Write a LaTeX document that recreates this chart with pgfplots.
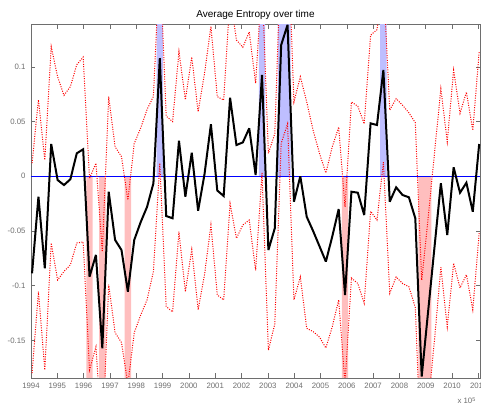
\documentclass[border=0pt]{standalone}
\usepackage{fontspec}
\setmainfont{Liberation Sans}
\usepackage{pgfplots}
\usepackage{pgfplotstable}
\pgfplotsset{compat=1.18}
\definecolor{axgray}{RGB}{110,110,110}
\definecolor{bandblue}{RGB}{190,190,255}
\definecolor{bandpink}{RGB}{255,190,190}
\pgfplotstableread{
x b u l
1994.040 -0.0887 0.012 -0.180
1994.283 -0.0186 0.070 -0.1055
1994.525 -0.0841 0.015 -0.177
1994.768 0.0295 0.1185 -0.061
1995.011 -0.0034 0.091 -0.0948
1995.254 -0.0080 0.074 -0.087
1995.496 -0.0027 0.082 -0.081
1995.739 0.0210 0.102 -0.061
1995.982 0.0247 0.109 -0.060
1996.224 -0.0918 -0.002 -0.177
1996.467 -0.0719 0.012 -0.156
1996.710 -0.1572 -0.069 -0.245
1996.952 -0.0141 0.0728 -0.099
1997.195 -0.0582 0.027 -0.143
1997.438 -0.0674 0.018 -0.152
1997.681 -0.1055 -0.0217 -0.190
1997.923 -0.0582 0.030 -0.143
1998.166 -0.0420 0.044 -0.127
1998.409 -0.0280 0.061 -0.113
1998.651 -0.0064 0.073 -0.087
1998.894 0.1079 0.200 0.012
1999.137 -0.0363 0.055 -0.119
1999.379 -0.0384 0.050 -0.124
1999.622 0.0325 0.114 -0.0506
1999.865 -0.0186 0.070 -0.1055
2000.108 0.0216 0.109 -0.067
2000.350 -0.0314 0.059 -0.122
2000.593 0.0020 0.094 -0.090
2000.836 0.0475 0.137 -0.0445
2001.078 -0.0130 0.0728 -0.1085
2001.321 -0.0180 0.0697 -0.113
2001.564 0.0718 0.165 -0.025
2001.806 0.0286 0.1246 -0.0567
2002.049 0.0310 0.118 -0.0445
2002.292 0.0439 0.132 -0.040
2002.535 0.0012 0.085 -0.086
2002.777 0.0926 0.180 0.003
2003.020 -0.0674 0.021 -0.159
2003.263 -0.0475 0.039 -0.135
2003.505 0.1200 0.210 0.030
2003.748 0.1385 0.230 0.048
2003.991 -0.0232 0.068 -0.113
2004.233 0.0000 0.091 -0.092
2004.476 -0.0370 0.068 -0.139
2004.719 -0.0500 0.042 -0.142
2004.962 -0.0640 0.021 -0.147
2005.204 -0.0780 0.003 -0.157
2005.447 -0.0550 0.027 -0.1375
2005.690 -0.0300 0.045 -0.113
2005.932 -0.1085 -0.028 -0.190
2006.175 -0.0141 0.068 -0.093
2006.418 -0.0150 0.064 -0.098
2006.660 -0.0354 0.048 -0.116
2006.903 0.0484 0.129 -0.032
2007.146 0.0469 0.134 -0.040
2007.389 0.0972 0.180 0.013
2007.631 -0.0232 0.0606 -0.107
2007.874 -0.0101 0.071 -0.092
2008.117 -0.0171 0.065 -0.098
2008.359 -0.0192 0.058 -0.101
2008.602 -0.0384 0.049 -0.120
2008.845 -0.1830 -0.095 -0.270
2009.087 -0.1240 -0.039 -0.210
2009.330 -0.0650 0.021 -0.150
2009.573 -0.0064 0.080 -0.083
2009.816 -0.0537 0.0316 -0.1375
2010.058 0.0082 0.097 -0.0795
2010.301 -0.0150 0.0576 -0.102
2010.544 -0.0059 0.077 -0.090
2010.786 -0.0324 0.042 -0.122
2011.029 0.0295 0.114 -0.052
}\data
\begin{document}
\begin{tikzpicture}
\begin{axis}[
  name=ax,
  scale only axis,
  width=449pt, height=353.5pt,
  xmin=1994, xmax=2011.06,
  ymin=-0.1844, ymax=0.1388,
  xtick={1994,1995,...,2011},
  xticklabels={1994,1995,1996,1997,1998,1999,2000,2001,2002,2003,2004,2005,2006,2007,2008,2009,2010,2011},
  ytick={-0.15,-0.1,-0.05,0,0.05,0.1},
  yticklabels={-0.15,-0.1,-0.05,0,0.05,0.1},
  tick align=inside,
  major tick length=4.5pt,
  axis line style={axgray, line width=0.6pt},
  every tick/.style={axgray, line width=0.6pt},
  tick label style={font=\fontsize{7.8}{9}\selectfont, text=axgray},
  xticklabel style={yshift=-1.5pt},
  yticklabel style={xshift=-2pt},
  title={Average Entropy over time},
  title style={at={(0.5,1)}, anchor=base, yshift=0.5pt, inner sep=0pt, font=\fontsize{10}{12}\selectfont},
]
% significance bands
\addplot[fill=bandblue, draw=none] coordinates {(1998.773,0) (1998.773,1) (1999.015,1) (1999.015,0)} \closedcycle;
\addplot[fill=bandblue, draw=none] coordinates {(2002.656,0) (2002.656,1) (2002.899,1) (2002.899,0)} \closedcycle;
\addplot[fill=bandblue, draw=none] coordinates {(2003.384,0) (2003.384,1) (2003.869,1) (2003.869,0)} \closedcycle;
\addplot[fill=bandblue, draw=none] coordinates {(2007.267,0) (2007.267,1) (2007.510,1) (2007.510,0)} \closedcycle;
\addplot[fill=bandpink, draw=none] coordinates {(1996.103,0) (1996.103,-1) (1996.346,-1) (1996.346,0)} \closedcycle;
\addplot[fill=bandpink, draw=none] coordinates {(1996.589,0) (1996.589,-1) (1996.831,-1) (1996.831,0)} \closedcycle;
\addplot[fill=bandpink, draw=none] coordinates {(1997.559,0) (1997.559,-1) (1997.802,-1) (1997.802,0)} \closedcycle;
\addplot[fill=bandpink, draw=none] coordinates {(2005.811,0) (2005.811,-1) (2006.054,-1) (2006.054,0)} \closedcycle;
\addplot[fill=bandpink, draw=none] coordinates {(2008.723,0) (2008.723,-1) (2009.209,-1) (2009.209,0)} \closedcycle;
% zero line
\addplot[blue, line width=0.6pt] coordinates {(1994,0) (2011.06,0)};
% confidence bounds
\addplot[red, line width=1pt, dash pattern=on 1pt off 1.4pt] table[x=x, y=u] {\data};
\addplot[red, line width=1pt, dash pattern=on 1pt off 1.4pt] table[x=x, y=l] {\data};
% average entropy
\addplot[black, line width=2pt, line join=miter, miter limit=3] table[x=x, y=b] {\data};
\end{axis}
\node[anchor=base east, font=\fontsize{7.8}{9}\selectfont, text=axgray, inner sep=0pt] at ([shift={(-4pt,-26pt)}]ax.south east) {x 10\textsuperscript{5}};
\pgfresetboundingbox
\path[use as bounding box] ([shift={(-31pt,-29pt)}]ax.south west) rectangle ([shift={(1pt,24.5pt)}]ax.north east);
\end{tikzpicture}
\end{document}
